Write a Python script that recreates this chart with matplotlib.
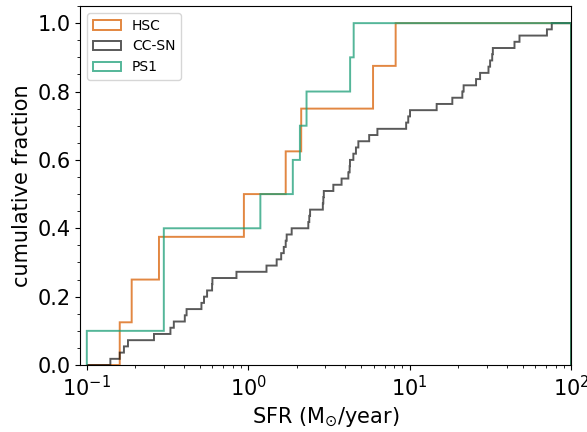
import numpy as np
import matplotlib
matplotlib.use('Agg')
import matplotlib.pyplot as plt

# star formation rates of the host galaxies (M_sun/year)
sfr_hsc = [0.16, 0.19, 0.28, 0.94, 1.71, 2.13, 5.93, 8.2]
sfr_ccsn = [0.140, 0.160, 0.170, 0.180, 0.261, 0.330, 0.346, 0.405, 0.415, 0.514,
            0.533, 0.557, 0.598, 0.601, 0.847, 1.30, 1.50, 1.60, 1.66, 1.71,
            1.73, 1.86, 2.36, 2.39, 2.42, 2.90, 2.92, 2.94, 3.37, 3.79,
            4.17, 4.25, 4.27, 4.48, 4.65, 4.81, 5.62, 6.31, 9.51, 9.8,
            10.05, 14.7, 18.4, 21.2, 21.6, 25.8, 27.3, 30.8, 31.5, 32.5,
            32.8, 44.6, 47.9, 70.8, 76.0]
sfr_ps1 = [0.1, 0.3, 0.3, 0.3, 1.19, 1.89, 2.09, 2.30, 4.28, 4.50]

bins = np.logspace(-1, 2, 3001)

fig = plt.figure(figsize=(5.87, 4.32), dpi=100)
ax = fig.add_axes([0.137, 0.155, 0.836, 0.831])

ax.hist(sfr_hsc, bins=bins, density=True, cumulative=True, histtype='step',
        color='#d95f02', alpha=0.75, linewidth=1.4, label='HSC')
ax.hist(sfr_ccsn, bins=bins, density=True, cumulative=True, histtype='step',
        color='k', alpha=0.65, linewidth=1.4, label='CC-SN')
ax.hist(sfr_ps1, bins=bins, density=True, cumulative=True, histtype='step',
        color='#1b9e77', alpha=0.75, linewidth=1.4, label='PS1')

ax.set_xscale('log')
ax.set_xlim(0.0913, 100)
ax.minorticks_on()
ax.tick_params(labelsize=15)

ax.set_xlabel(r'SFR (M$_{\odot}$/year)', fontsize=15)
ax.set_ylabel('cumulative fraction', fontsize=15)
ax.legend(loc='upper left', fontsize=10)

plt.savefig('out.png')
